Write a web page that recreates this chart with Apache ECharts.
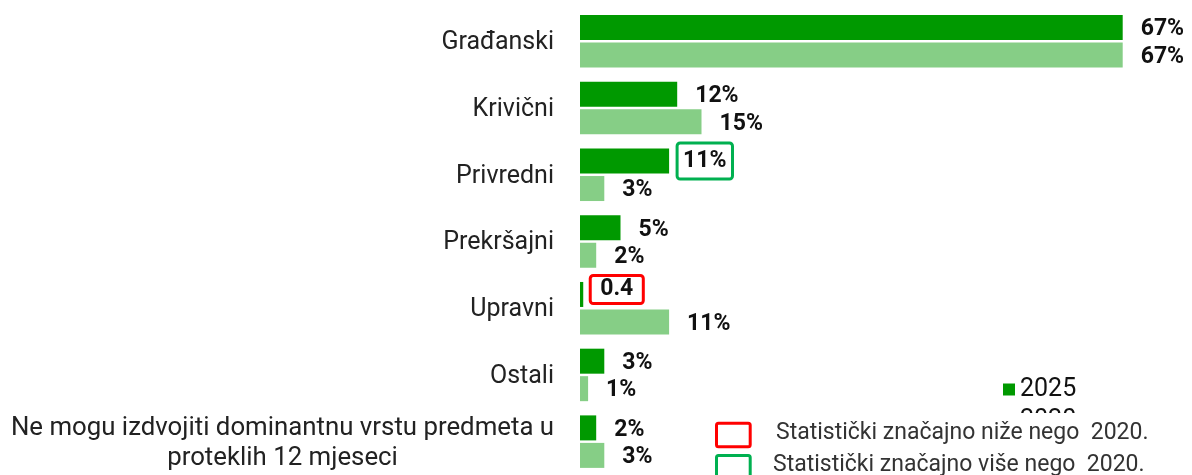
<!DOCTYPE html>
<html>
<head>
<meta charset="utf-8">
<script src="https://cdn.jsdelivr.net/npm/echarts@6/dist/echarts.min.js"></script>
<style>
  html, body { margin: 0; padding: 0; background: #fff; }
  #main { width: 1192px; height: 475px; }
</style>
</head>
<body>
<div id="main"></div>
<script>
// kategorije predmeta
var categories = ['Građanski', 'Krivični', 'Privredni', 'Prekršajni', 'Upravni', 'Ostali',
  'Ne mogu izdvojiti dominantnu vrstu predmeta u\nproteklih 12 mjeseci'];
var values2025 = [67, 12, 11, 5, 0.4, 3, 2];
var values2020 = [67, 15, 3, 2, 11, 1, 3];
var labels2025 = ['67%', '12%', '11%', '5%', '0.4', '3%', '2%'];
var labels2020 = ['67%', '15%', '3%', '2%', '11%', '1%', '3%'];
// 'up' = značajno više, 'down' = značajno niže nego 2020.
var signif2025 = ['', '', 'up', '', 'down', '', ''];
var seriesNames = ['2025', '2020'];
var noteLower = 'Statistički značajno niže nego  2020.';
var noteHigher = 'Statistički značajno više nego  2020.';

var DARK = '#009900';
var LIGHT = '#86CE86';
var RED = '#FF0000';
var GREEN = '#00B050';

function buildData(values, signif) {
  return values.map(function (v, i) {
    var s = signif ? signif[i] : '';
    if (s === 'up') {
      return { value: v, label: {
        borderColor: GREEN, borderWidth: 3, borderRadius: 3,
        padding: [5, 6, 5, 6], lineHeight: 26, distance: 8, offset: [0, 0]
      } };
    }
    if (s === 'down') {
      return { value: v, label: {
        borderColor: RED, borderWidth: 3, borderRadius: 3,
        padding: [1, 10, 1, 10], lineHeight: 26, distance: 7, offset: [0, -5]
      } };
    }
    return v;
  });
}

var myChart = echarts.init(document.getElementById('main'));

var labelBase = {
  show: true,
  position: 'right',
  distance: 18,
  offset: [0, 2],
  fontFamily: 'Roboto',
  fontSize: 23,
  fontWeight: 'bold',
  color: '#111'
};

myChart.setOption({
  animation: false,
  textStyle: { fontFamily: 'Roboto' },
  grid: { left: 580, top: 8, width: 567, height: 471 },
  legend: {
    orient: 'vertical',
    left: 998,
    top: 372,
    itemWidth: 12,
    itemHeight: 12,
    itemGap: 6,
    icon: 'rect',
    textStyle: { fontSize: 25, color: '#111', fontFamily: 'Roboto' },
    data: seriesNames
  },
  xAxis: {
    type: 'value',
    min: 0,
    max: 70,
    show: false
  },
  yAxis: {
    type: 'category',
    inverse: true,
    data: categories,
    axisLine: { show: false },
    axisTick: { show: false },
    axisLabel: {
      margin: 26,
      fontSize: 25,
      color: '#222',
      fontFamily: 'Roboto',
      padding: [3, 0, 0, 0],
      formatter: function (v) {
        if (v.indexOf('\n') < 0) return v;
        return v.split('\n').map(function (l) { return '{w|' + l + '}'; }).join('\n');
      },
      rich: {
        w: { width: 543, align: 'center', fontSize: 25.8, lineHeight: 30, color: '#222', fontFamily: 'Roboto' }
      }
    }
  },
  series: [{
    name: seriesNames[0],
    type: 'bar',
    barWidth: 25,
    barGap: '10%',
    itemStyle: { color: DARK },
    label: Object.assign({}, labelBase, {
      formatter: function (p) { return labels2025[p.dataIndex]; }
    }),
    data: buildData(values2025, signif2025)
  }, {
    name: seriesNames[1],
    type: 'bar',
    barWidth: 25,
    itemStyle: { color: LIGHT },
    label: Object.assign({}, labelBase, {
      formatter: function (p) { return labels2020[p.dataIndex]; }
    }),
    data: buildData(values2020, null)
  }],
  graphic: [
    // bijela podloga preko donjeg dijela legende
    { type: 'rect', z: 100, shape: { x: 700, y: 413, width: 492, height: 62 }, style: { fill: '#fff' } },
    { type: 'rect', z: 101, shape: { x: 716.5, y: 423.2, width: 33.7, height: 23.6, r: 2 },
      style: { fill: 'none', stroke: RED, lineWidth: 3 } },
    { type: 'rect', z: 101, shape: { x: 716.5, y: 455.5, width: 33.7, height: 23.6, r: 2 },
      style: { fill: 'none', stroke: GREEN, lineWidth: 3 } },
    { type: 'text', z: 101, x: 776, y: 433,
      style: { text: noteLower, fontSize: 23, fontFamily: 'Roboto', fill: '#333', verticalAlign: 'middle' } },
    { type: 'text', z: 101, x: 773, y: 465,
      style: { text: noteHigher, fontSize: 23, fontFamily: 'Roboto', fill: '#333', verticalAlign: 'middle' } }
  ]
});
</script>
</body>
</html>
